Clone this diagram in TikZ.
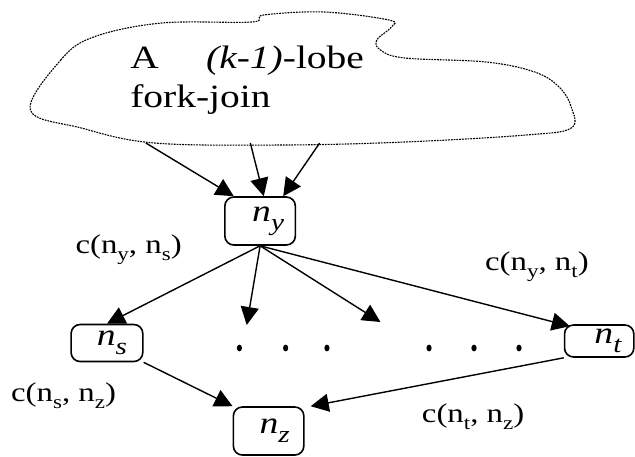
\documentclass[tikz,border=0pt]{standalone}
\usepackage{fontspec}
\setmainfont{Liberation Serif}
\usetikzlibrary{arrows.meta,calc}
\newcommand\sx[1]{\scalebox{1.215}[1]{#1}}
\newcommand\nn[1]{\sx{\textit{n}\raisebox{-0.3em}{\fontsize{24}{24}\selectfont\textit{#1}}}}
\newcommand\ls[1]{\raisebox{-0.25em}{\fontsize{19}{19}\selectfont #1}}
\begin{document}
\begin{tikzpicture}[x=1.2154pt,y=-1pt,
  box/.style={draw,line width=1.6pt,rounded corners=9pt,inner sep=0pt,font=\fontsize{31}{34}\selectfont},
  arr/.style={line width=1.4pt,-{Triangle[length=18pt,width=18pt]}},
  lbl/.style={font=\fontsize{27}{29}\selectfont,inner sep=0pt},
  cloud/.style={line width=1.1pt,dash pattern=on 1.8pt off 1pt},
  big/.style={font=\fontsize{32.5}{35}\selectfont,inner sep=0pt,anchor=base west}]
\useasboundingbox (0,0) rectangle (522.46,456);
% cloud
\draw[cloud] plot[smooth cycle,tension=0.6] coordinates {(25,110) (50,60) (77,37) (133,23) (207,22) (217,15) (267,12) (320,20) (322,27) (310,40) (313,50) (333,58) (400,62) (440,72) (460,87) (470,107) (470,128) (433,135) (333,142) (233,145) (127,143) (67,128)};
\node[big] (t1) at (107,68) {\sx{A\hspace{1.2em}\textit{(k-1)}-lobe}};
\node[big] (t2) at (107,107) {\sx{fork-join}};
% nodes
\node[box,minimum width=70.5pt,minimum height=48pt] (ny) at (214,221) {\hspace*{16pt}\nn{y}};
\node[box,minimum width=71.7pt,minimum height=37pt] (ns) at (88,343) {\hspace*{10pt}\nn{s}};
\node[box,minimum width=69.3pt,minimum height=32pt] (nt) at (493,341) {\hspace*{18pt}\nn{t}};
\node[box,minimum width=70.5pt,minimum height=48pt] (nz) at (221,431) {\hspace*{12pt}\nn{z}};
% arrows from cloud
\coordinate (c1) at (120,143);
\coordinate (c2) at (206,143);
\coordinate (c3) at (263,143);
\draw[arr] (c1) -- ($(ny.north west)+(8,0)$);
\draw[arr] (c2) -- ($(ny.north)+(3,0)$);
\draw[arr] (c3) -- ($(ny.north)+(19,0)$);
% fan out
\coordinate (e1) at (203,325);
\coordinate (e2) at (313,322);
\draw[arr] (ny.south) -- (ns.north);
\draw[arr] (ny.south) -- (e1);
\draw[arr] (ny.south) -- (e2);
\draw[arr] (ny.south) -- ($(nt.north west)+(5,2)$);
\draw[arr] (ns.south east) -- (nz.north west);
\draw[arr] (nt.south west) -- ($(nz.north east)+(5,0)$);
% dots
\foreach \x in {197,235,269,353,390,427} \fill (\x,348) ellipse (2.6pt and 3.4pt);
% labels
\node[lbl,anchor=west] (l1) at (62,250) {\sx{c(n\ls{y}, n\ls{s})}};
\node[lbl,anchor=west] (l2) at (399,267) {\sx{c(n\ls{y}, n\ls{t})}};
\node[lbl,anchor=west] (l3) at (9,396) {\sx{c(n\ls{s}, n\ls{z})}};
\node[lbl,anchor=west] (l4) at (347,417) {\sx{c(n\ls{t}, n\ls{z})}};
\end{tikzpicture}
\end{document}
